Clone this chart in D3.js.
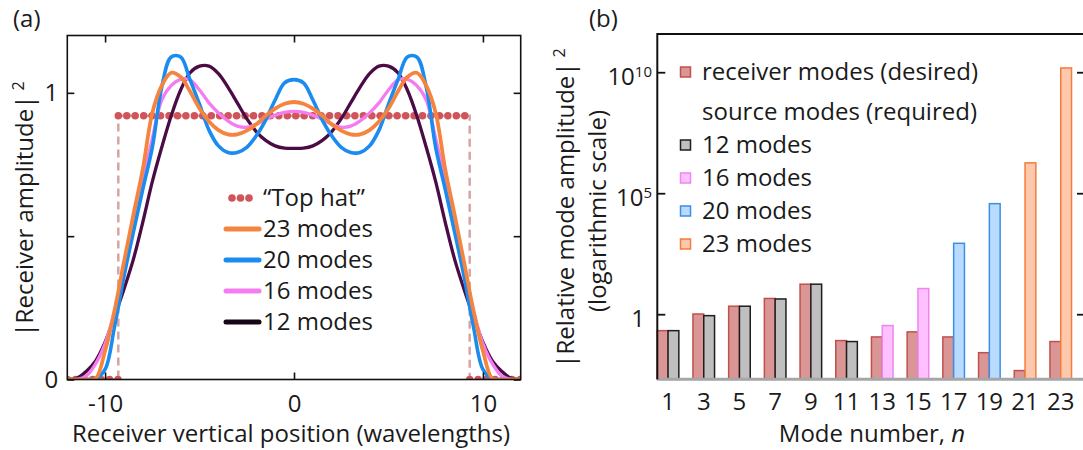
<!DOCTYPE html>
<html>
<head>
<meta charset="utf-8">
<script src="https://cdn.jsdelivr.net/npm/d3@7"></script>
<style>
  body { margin: 0; background: #fff; }
  svg text { font-family: "Open Sans", sans-serif; fill: #1a1a1a; }
</style>
</head>
<body>
<svg id="chart" width="1083" height="450"></svg>
<script>
// ---------- Panel (a): receiver amplitude profiles ----------
const positions = [-12, -11.5, -11, -10.5, -10, -9.5, -9, -8.5, -8, -7.5, -7, -6.5, -6, -5.5, -5, -4.5, -4, -3.5, -3, -2.5, -2, -1.5, -1, -0.5,
  0, 0.5, 1, 1.5, 2, 2.5, 3, 3.5, 4, 4.5, 5, 5.5, 6, 6.5, 7, 7.5, 8, 8.5, 9, 9.5, 10, 10.5, 11, 11.5, 12];

const modes23 = [0, 0, 0, 0.003, 0.10, 0.24, 0.41, 0.575, 0.735, 0.93, 1.025, 1.07, 1.055, 1.005, 0.945, 0.90, 0.87, 0.855, 0.855, 0.868, 0.89, 0.92, 0.945, 0.962,
  0.968, 0.962, 0.945, 0.92, 0.89, 0.868, 0.855, 0.855, 0.87, 0.90, 0.945, 1.005, 1.055, 1.07, 1.025, 0.93, 0.735, 0.575, 0.41, 0.24, 0.10, 0.003, 0, 0, 0];
const modes20 = [0, 0, 0, 0.002, 0.035, 0.184, 0.36, 0.515, 0.665, 0.81, 1.02, 1.125, 1.125, 1.045, 0.96, 0.87, 0.815, 0.792, 0.792, 0.81, 0.85, 0.905, 0.975, 1.035,
  1.046, 1.035, 0.975, 0.905, 0.85, 0.81, 0.792, 0.792, 0.815, 0.87, 0.96, 1.045, 1.125, 1.125, 1.02, 0.81, 0.665, 0.515, 0.36, 0.184, 0.035, 0.002, 0, 0, 0];
const modes16 = [0, 0, 0.012, 0.055, 0.125, 0.24, 0.40, 0.56, 0.70, 0.84, 0.975, 1.025, 1.047, 1.045, 1.01, 0.965, 0.93, 0.902, 0.884, 0.88, 0.89, 0.908, 0.922, 0.932,
  0.935, 0.932, 0.922, 0.908, 0.89, 0.88, 0.884, 0.902, 0.93, 0.965, 1.01, 1.045, 1.047, 1.025, 0.975, 0.84, 0.70, 0.56, 0.40, 0.24, 0.125, 0.055, 0.012, 0, 0];
const modes12 = [0, 0.004, 0.028, 0.065, 0.13, 0.22, 0.315, 0.42, 0.55, 0.69, 0.81, 0.92, 1.01, 1.07, 1.093, 1.093, 1.067, 1.02, 0.965, 0.91, 0.865, 0.834, 0.815, 0.807,
  0.806, 0.807, 0.815, 0.834, 0.865, 0.91, 0.965, 1.02, 1.067, 1.093, 1.093, 1.07, 1.01, 0.92, 0.81, 0.69, 0.55, 0.42, 0.315, 0.22, 0.13, 0.065, 0.028, 0.004, 0];

// desired "top hat" profile
const topHatX = [-12, -9.3, -9.3, 9.3, 9.3, 12];
const topHatY = [0, 0, 0.92, 0.92, 0, 0];

const xTicksA = [-10, 0, 10];
const yTicksA = [0, 0.5, 1];
const legendA = ["\u201cTop hat\u201d", "23 modes", "20 modes", "16 modes", "12 modes"];

// ---------- Panel (b): mode amplitudes ----------
const modeNumbers = [1, 3, 5, 7, 9, 11, 13, 15, 17, 19, 21, 23];
const receiverAmp = [0.209, 1.02, 2.14, 4.47, 17.4, 0.0813, 0.115, 0.186, 0.115, 0.0257, 0.00468, 0.0741];
const source12Modes = [1, 3, 5, 7, 9, 11];
const source12Amp = [0.209, 0.871, 2.14, 4.27, 17.4, 0.0741];
const source16Modes = [13, 15];
const source16Amp = [0.339, 11.5];
const source20Modes = [17, 19];
const source20Amp = [851, 37000];
const source23Modes = [21, 23];
const source23Amp = [1.8e6, 1.5e10];
const yTicksB = [1, 1e5, 1e10];
const legendB = ["receiver modes (desired)", "source modes (required)", "12 modes", "16 modes", "20 modes", "23 modes"];

const svg = d3.select("#chart");
const FS = 24;

// ===== Panel (a) =====
const ax = { left: 67.3, right: 520.7, top: 35.5, bottom: 379.5 };
const xa = d3.scaleLinear().domain([-12, 12]).range([ax.left, ax.right]);
const ya = d3.scaleLinear().domain([0, 1.2]).range([ax.bottom, ax.top]);
const gA = svg.append("g");

svg.append("defs").append("clipPath").attr("id", "clipA")
  .append("rect").attr("x", ax.left).attr("y", ax.top - 5)
  .attr("width", ax.right - ax.left).attr("height", ax.bottom - ax.top + 5);

const plotA = gA.append("g").attr("clip-path", "url(#clipA)");

// top hat: dashed outline, dotted flat parts
const hatPts = topHatX.map((x, i) => [x, topHatY[i]]);
plotA.append("path")
  .attr("d", d3.line().x(d => xa(d[0])).y(d => ya(d[1]))(hatPts))
  .attr("fill", "none").attr("stroke", "#d9a3a3").attr("stroke-width", 2.5)
  .attr("stroke-dasharray", "8 5");
const hatFlat = [[hatPts[0], hatPts[1]], [hatPts[2], hatPts[3]], [hatPts[4], hatPts[5]]];
plotA.selectAll("path.hatdots").data(hatFlat).join("path")
  .attr("class", "hatdots")
  .attr("d", d => d3.line().x(p => xa(p[0])).y(p => ya(p[1]))(d))
  .attr("fill", "none").attr("stroke", "#d0555b").attr("stroke-width", 7.5)
  .attr("stroke-linecap", "round").attr("stroke-dasharray", "0 8.45");

const curves = [
  { values: modes12, color: "#4b0c46", width: 3.3 },
  { values: modes16, color: "#f57cf0", width: 3.3 },
  { values: modes20, color: "#1a8cf0", width: 3.6 },
  { values: modes23, color: "#f5843f", width: 3.8 }
];
const lineA = d3.line().curve(d3.curveCatmullRom.alpha(0.5))
  .x((d, i) => xa(positions[i])).y(d => ya(d));
plotA.selectAll("path.profile").data(curves).join("path")
  .attr("class", "profile")
  .attr("d", d => lineA(d.values))
  .attr("fill", "none").attr("stroke", d => d.color).attr("stroke-width", d => d.width)
  .attr("stroke-linejoin", "round");

// frame and inward ticks
gA.append("rect").attr("x", ax.left).attr("y", ax.top)
  .attr("width", ax.right - ax.left).attr("height", ax.bottom - ax.top)
  .attr("fill", "none").attr("stroke", "#111").attr("stroke-width", 1.6);

function styleAxis(g) {
  g.select(".domain").remove();
  g.selectAll(".tick line").attr("stroke", "#111").attr("stroke-width", 1.6);
  g.selectAll(".tick text").attr("font-size", FS).attr("fill", "#1a1a1a")
    .attr("font-family", "Open Sans, sans-serif");
}
gA.append("g").attr("transform", `translate(0,${ax.bottom})`)
  .call(d3.axisBottom(xa).tickValues(xTicksA).tickSize(-7).tickPadding(15).tickFormat(d => String(d)))
  .call(styleAxis);
gA.append("g").attr("transform", `translate(0,${ax.top})`)
  .call(d3.axisTop(xa).tickValues(xTicksA).tickSize(-7).tickFormat(() => ""))
  .call(styleAxis);
gA.append("g").attr("transform", `translate(${ax.left},0)`)
  .call(d3.axisLeft(ya).tickValues(yTicksA).tickSize(-7).tickPadding(9).tickFormat(d => d === 0.5 ? "" : String(d)))
  .call(styleAxis);
gA.append("g").attr("transform", `translate(${ax.right},0)`)
  .call(d3.axisRight(ya).tickValues(yTicksA).tickSize(-7).tickFormat(() => ""))
  .call(styleAxis);

// legend (a)
const legA = gA.append("g");
legendA.forEach((label, i) => {
  const y = 198 + i * 31;
  if (i === 0) {
    [232, 240.5, 249].forEach(cx => legA.append("circle").attr("cx", cx).attr("cy", y)
      .attr("r", 3.8).attr("fill", "#d0555b"));
  } else {
    const col = i === 4 ? "#160616" : curves[4 - i].color;
    legA.append("line").attr("x1", 226).attr("x2", 259).attr("y1", y).attr("y2", y)
      .attr("stroke", col).attr("stroke-width", 5).attr("stroke-linecap", "round");
  }
  legA.append("text").attr("x", 263).attr("y", y).attr("dy", "0.35em")
    .attr("font-size", FS).text(label);
});

// titles (a)
gA.append("text").attr("x", 13).attr("y", 19).attr("dy", "0.35em").attr("font-size", FS).text("(a)");
gA.append("text").attr("x", (ax.left + ax.right) / 2 - 3).attr("y", 442)
  .attr("text-anchor", "middle").attr("font-size", FS)
  .text("Receiver vertical position (wavelengths)");
const yTitleA = gA.append("text")
  .attr("transform", "translate(25,209) rotate(-90)")
  .attr("text-anchor", "middle").attr("dy", "0.35em").attr("font-size", FS);
yTitleA.append("tspan").text("|Receiver amplitude|");
yTitleA.append("tspan").attr("dx", 5).attr("dy", -9).attr("font-size", 16).text("2");

// ===== Panel (b) =====
const bx = { left: 657.3, right: 1084, top: 34, bottom: 379.3 };
const xb = d3.scaleBand().domain(modeNumbers).range([650.2, 1078.6]);
const yb = d3.scaleLog().domain([Math.pow(10, -2.69), Math.pow(10, 11.58)]).range([bx.bottom, bx.top]);
const gB = svg.append("g");
const barW = 10.8;
const center = n => xb(n) + xb.bandwidth() / 2;

const sourceSeries = [
  { modes: source12Modes, amps: source12Amp, fill: "#bfbfbf", stroke: "#1e1e1e" },
  { modes: source16Modes, amps: source16Amp, fill: "#ffc0ff", stroke: "#ee86ee" },
  { modes: source20Modes, amps: source20Amp, fill: "#b9dbff", stroke: "#3a8fe6" },
  { modes: source23Modes, amps: source23Amp, fill: "#fdc8ab", stroke: "#f47c3c" }
];
const receiverStyle = { fill: "#d99694", stroke: "#c0504d" };

gB.selectAll("rect.recv").data(modeNumbers).join("rect")
  .attr("class", "recv")
  .attr("x", n => center(n) - barW).attr("width", barW)
  .attr("y", (n, i) => yb(receiverAmp[i]))
  .attr("height", (n, i) => bx.bottom - yb(receiverAmp[i]))
  .attr("fill", receiverStyle.fill).attr("stroke", receiverStyle.stroke).attr("stroke-width", 1.5);

sourceSeries.forEach(s => {
  gB.selectAll(null).data(s.modes).join("rect")
    .attr("x", n => center(n)).attr("width", barW)
    .attr("y", (n, i) => yb(s.amps[i]))
    .attr("height", (n, i) => bx.bottom - yb(s.amps[i]))
    .attr("fill", s.fill).attr("stroke", s.stroke).attr("stroke-width", 1.5);
});

// axes (b)
gB.append("line").attr("x1", bx.left).attr("x2", 1083).attr("y1", bx.top).attr("y2", bx.top)
  .attr("stroke", "#111").attr("stroke-width", 2);
gB.append("line").attr("x1", bx.left).attr("x2", 1083).attr("y1", bx.bottom).attr("y2", bx.bottom)
  .attr("stroke", "#a6a6a6").attr("stroke-width", 3);
const leftB = gB.append("g").attr("transform", `translate(${bx.left},0)`)
  .call(d3.axisLeft(yb).tickValues(yTicksB).tickSize(-8).tickFormat(() => ""));
leftB.select(".domain").remove();
leftB.selectAll(".tick line").attr("stroke", "#111").attr("stroke-width", 1.8);
gB.append("line").attr("x1", bx.left).attr("x2", bx.left).attr("y1", bx.top - 1).attr("y2", bx.bottom)
  .attr("stroke", "#111").attr("stroke-width", 2);
const rightB = gB.append("g").attr("transform", `translate(${bx.right},0)`)
  .call(d3.axisRight(yb).tickValues(yTicksB).tickSize(-7).tickFormat(() => ""));
rightB.select(".domain").remove();
rightB.selectAll(".tick line").attr("stroke", "#111").attr("stroke-width", 1.8);

// log tick labels with superscript exponents
yTicksB.forEach(v => {
  const e = Math.round(Math.log10(v));
  const t = gB.append("text").attr("x", e === 0 ? 645 : 652).attr("y", yb(v) + 4).attr("dy", "0.35em")
    .attr("text-anchor", "end").attr("font-size", FS);
  if (e === 0) { t.text("1"); }
  else {
    t.append("tspan").text("10");
    t.append("tspan").attr("dy", -8).attr("font-size", 15).text(String(e));
  }
});

const bottomB = gB.append("g").attr("transform", `translate(0,${bx.bottom})`)
  .call(d3.axisBottom(xb).tickSize(0).tickPadding(14));
bottomB.select(".domain").remove();
bottomB.selectAll(".tick text").attr("font-size", FS).attr("font-family", "Open Sans, sans-serif").attr("fill", "#1a1a1a");

// legend (b)
const legendSwatch = [receiverStyle, null, ...sourceSeries];
const legendRowY = [72, 112, 145, 178, 211, 244];
legendB.forEach((label, i) => {
  const y = legendRowY[i];
  const s = legendSwatch[i];
  if (s) {
    gB.append("rect").attr("x", 680.5).attr("y", y - 5).attr("width", 10).attr("height", 10)
      .attr("fill", s.fill).attr("stroke", s.stroke).attr("stroke-width", 1.5);
  }
  gB.append("text").attr("x", 702).attr("y", y).attr("dy", "0.35em").attr("font-size", FS).text(label);
});

// titles (b)
gB.append("text").attr("x", 589).attr("y", 19).attr("dy", "0.35em").attr("font-size", FS).text("(b)");
const xTitleB = gB.append("text").attr("x", 872).attr("y", 442).attr("text-anchor", "middle").attr("font-size", FS);
xTitleB.append("tspan").text("Mode number, ");
xTitleB.append("tspan").attr("font-style", "italic").text("n");
const yTitleB1 = gB.append("text").attr("transform", "translate(566,208) rotate(-90)")
  .attr("text-anchor", "middle").attr("dy", "0.35em").attr("font-size", FS);
yTitleB1.append("tspan").text("|Relative mode amplitude|");
yTitleB1.append("tspan").attr("dx", 5).attr("dy", -9).attr("font-size", 16).text("2");
gB.append("text").attr("transform", "translate(598,211) rotate(-90)")
  .attr("text-anchor", "middle").attr("dy", "0.35em").attr("font-size", FS)
  .text("(logarithmic scale)");
</script>
</body>
</html>
